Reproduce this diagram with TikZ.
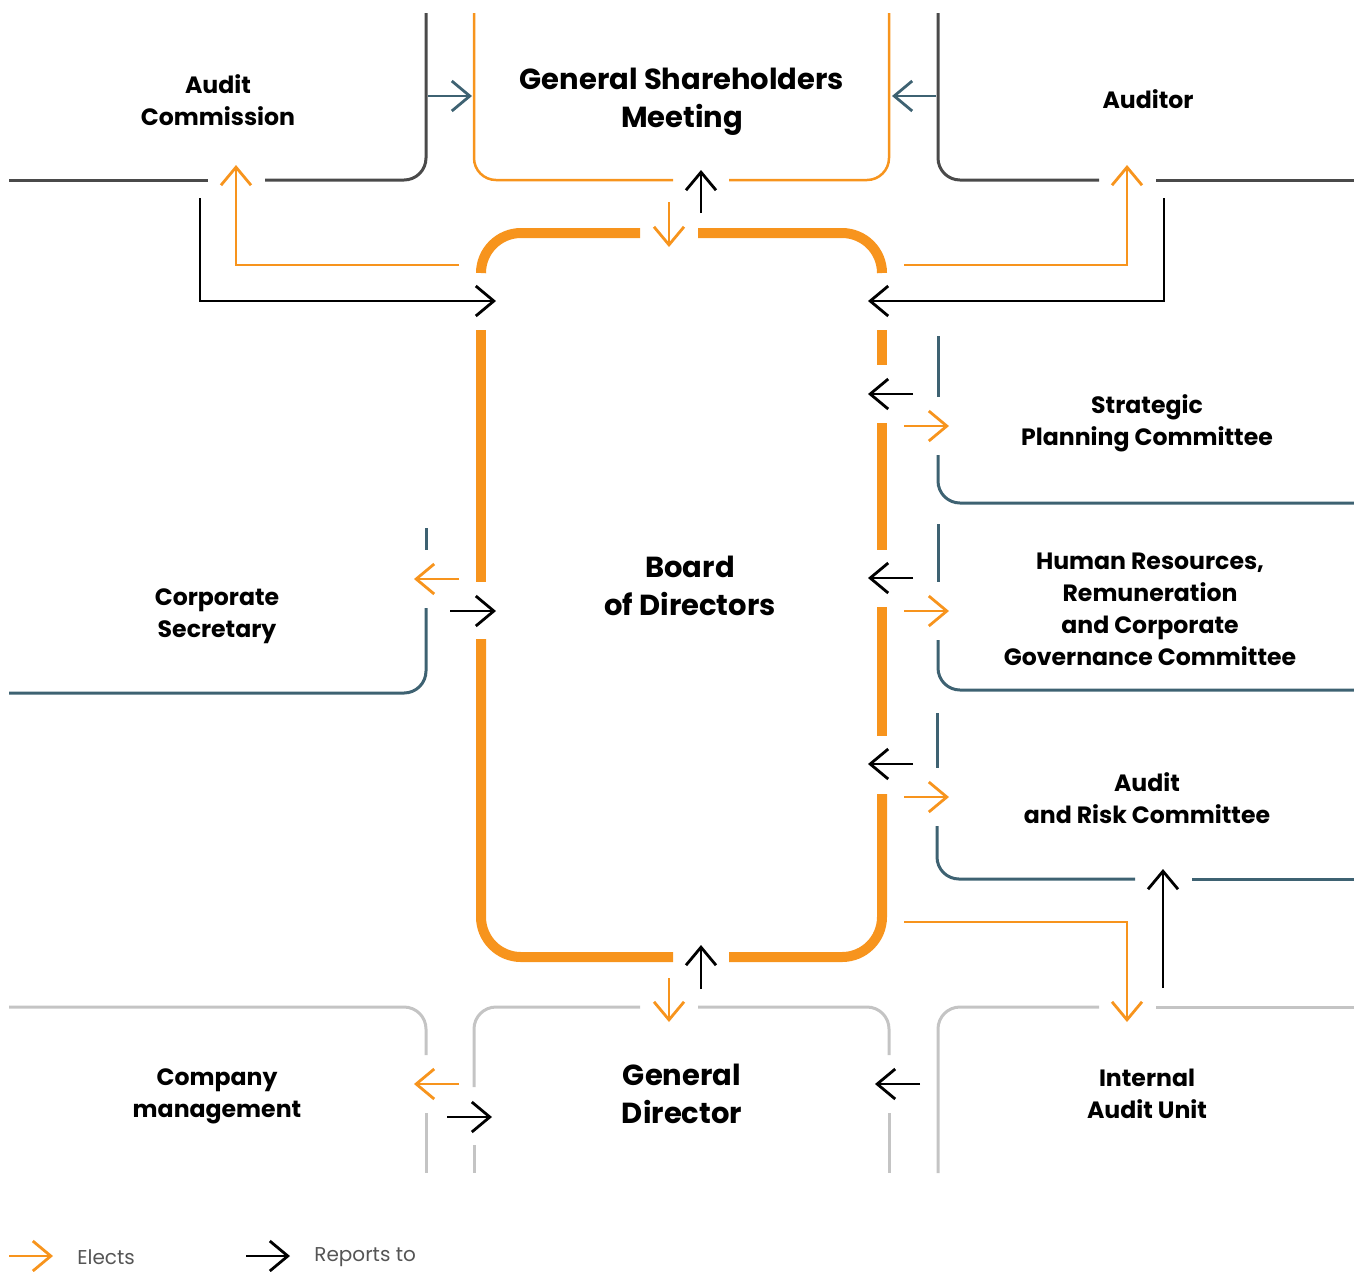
\documentclass[tikz,border=0pt]{standalone}
\usepackage{fontspec}
\setmainfont{Poppins}
\usetikzlibrary{arrows.meta}
\definecolor{orgc}{HTML}{F7941D}
\definecolor{tealc}{HTML}{3E6272}
\definecolor{darkc}{HTML}{4A4A4A}
\definecolor{lightc}{HTML}{C4C4C4}
\definecolor{legc}{HTML}{555555}

\begin{document}
\begin{tikzpicture}[
			x=0.5pt,y=-0.5pt,
			barb/.style={-{Straight Barb[length=9pt,width=15pt,line width=1.4pt]}},
			elects/.style={barb,draw=orgc,line width=1.4pt},
			reports/.style={barb,draw=black,line width=1.4pt},
			informs/.style={barb,draw=tealc,line width=1.4pt},
			outline/.style={line width=1.5pt,rounded corners=11pt},
			boardline/.style={draw=orgc,line width=5pt,rounded corners=20pt},
			unit/.style={align=center,font=\bfseries\fontsize{11.8}{16}\selectfont},
			bigunit/.style={align=center,font=\bfseries\fontsize{14.5}{19}\selectfont},
			legend/.style={anchor=west,inner sep=1pt,text=legc,font=\fontsize{10}{12}\selectfont}
		]
			\useasboundingbox (0,0) rectangle (1354,1271);
			
			% labels
			\node[unit] (ac) at (218,100) {Audit\\Commission};
			\node[bigunit] (gsm) at (682,102) {General Shareholders\\Meeting};
			\node[unit] (aud) at (1148,99) {Auditor};
			\node[bigunit] (bod) at (690,586) {Board\\of Directors};
			\node[unit] (spc) at (1147,423) {Strategic\\Planning Committee};
			\node[unit] (hr) at (1150,609) {Human Resources,\\Remuneration\\and Corporate\\Governance Committee};
			\node[unit] (arc) at (1147,798) {Audit\\and Risk Committee};
			\node[unit] (cs) at (217,616) {Corporate\\Secretary};
			\node[unit] (cm) at (217,1096) {Company\\management};
			\node[bigunit] (gd) at (682,1094) {General\\Director};
			\node[unit] (iau) at (1147,1094) {Internal\\Audit Unit};
			
			% box outlines
			\draw[outline,darkc] (9,180) -- (208,180);
			\draw[outline,darkc] (265,180) -- (426,180) -- (426,13);
			\draw[outline,orgc,line width=1.25pt] (673,180) -- (474,180) -- (474,13);
			\draw[outline,orgc,line width=1.25pt] (729,180) -- (889,180) -- (889,13);
			\draw[outline,darkc] (938,13) -- (938,180) -- (1099,180);
			\draw[outline,darkc] (1156,180) -- (1354,180);
			
			\draw[boardline] (640,233) -- (481,233) -- (481,273);
			\draw[boardline] (698,233) -- (882,233) -- (882,273);
			\draw[boardline] (481,330) -- (481,582);
			\draw[boardline] (481,639) -- (481,957) -- (673,957);
			\draw[boardline] (729,957) -- (882,957) -- (882,794);
			\draw[boardline] (882,330) -- (882,365);
			\draw[boardline] (882,423) -- (882,550);
			\draw[boardline] (882,607) -- (882,736);
			
			\draw[outline,tealc] (938,336) -- (938,397);
			\draw[outline,tealc] (938,455) -- (938,503) -- (1354,503);
			\draw[outline,tealc] (938,524) -- (938,582);
			\draw[outline,tealc] (938,640) -- (938,690) -- (1354,690);
			\draw[outline,tealc] (937,713) -- (937,768);
			\draw[outline,tealc] (937,826) -- (937,879) -- (1135,879);
			\draw[outline,tealc] (1192,879) -- (1354,879);
			\draw[outline,tealc] (426,528) -- (426,550);
			\draw[outline,tealc] (426,608) -- (426,693) -- (9,693);
			
			\draw[outline,lightc] (9,1007) -- (426,1007) -- (426,1055);
			\draw[outline,lightc] (426,1113) -- (426,1173);
			\draw[outline,lightc] (640,1007) -- (474,1007) -- (474,1087);
			\draw[outline,lightc] (474,1145) -- (474,1173);
			\draw[outline,lightc] (698,1007) -- (889,1007) -- (889,1055);
			\draw[outline,lightc] (889,1113) -- (889,1173);
			\draw[outline,lightc] (1099,1007) -- (938,1007) -- (938,1173);
			\draw[outline,lightc] (1156,1007) -- (1354,1007);
			
			% connector ends
			\coordinate (acOut) at (428,96);
			\coordinate (gsmInL) at (472,96);
			\coordinate (audOut) at (936,96);
			\coordinate (gsmInR) at (892,96);
			\coordinate (gsmDown) at (669,202);
			\coordinate (bodInT) at (669,247);
			\coordinate (bodUp) at (701,213);
			\coordinate (gsmInB) at (701,170);
			\coordinate (bodOutL) at (459,265);
			\coordinate (acIn) at (236,165);
			\coordinate (bodOutR) at (904,265);
			\coordinate (audIn) at (1127,165);
			\coordinate (acDown) at (200,198);
			\coordinate (bodInL) at (496,301);
			\coordinate (audDown) at (1164,198);
			\coordinate (bodInR) at (868,301);
			\coordinate (spcOut) at (913,394);
			\coordinate (spcBod) at (868,394);
			\coordinate (bodSpc) at (904,426);
			\coordinate (spcIn) at (949,426);
			\coordinate (hrOut) at (913,578);
			\coordinate (hrBod) at (868,578);
			\coordinate (bodHr) at (904,611);
			\coordinate (hrIn) at (949,611);
			\coordinate (arcOut) at (913,764);
			\coordinate (arcBod) at (868,764);
			\coordinate (bodArc) at (904,797);
			\coordinate (arcIn) at (949,797);
			\coordinate (bodCs) at (459,579);
			\coordinate (csIn) at (414,579);
			\coordinate (csOut) at (450,611);
			\coordinate (csBod) at (496,611);
			\coordinate (bodDown) at (669,978);
			\coordinate (gdIn) at (669,1022);
			\coordinate (gdUp) at (701,989);
			\coordinate (bodInB) at (701,945);
			\coordinate (bodIau) at (904,922);
			\coordinate (iauIn) at (1127,1022);
			\coordinate (iauUp) at (1163,988);
			\coordinate (arcInB) at (1163,869);
			\coordinate (gdCm) at (459,1084);
			\coordinate (cmIn) at (414,1084);
			\coordinate (cmOut) at (447,1117);
			\coordinate (gdInL) at (492,1117);
			\coordinate (iauOut) at (920,1084);
			\coordinate (gdInR) at (875,1084);
			
			% connectors
			\draw[informs] (acOut) -- (gsmInL);
			\draw[informs] (audOut) -- (gsmInR);
			\draw[elects] (gsmDown) -- (bodInT);
			\draw[reports] (bodUp) -- (gsmInB);
			\draw[elects] (bodOutL) -| (acIn);
			\draw[elects] (bodOutR) -| (audIn);
			\draw[reports] (acDown) |- (bodInL);
			\draw[reports] (audDown) |- (bodInR);
			\draw[reports] (spcOut) -- (spcBod);
			\draw[elects] (bodSpc) -- (spcIn);
			\draw[reports] (hrOut) -- (hrBod);
			\draw[elects] (bodHr) -- (hrIn);
			\draw[reports] (arcOut) -- (arcBod);
			\draw[elects] (bodArc) -- (arcIn);
			\draw[elects] (bodCs) -- (csIn);
			\draw[reports] (csOut) -- (csBod);
			\draw[elects] (bodDown) -- (gdIn);
			\draw[reports] (gdUp) -- (bodInB);
			\draw[elects] (bodIau) -| (iauIn);
			\draw[reports] (iauUp) -- (arcInB);
			\draw[elects] (gdCm) -- (cmIn);
			\draw[reports] (cmOut) -- (gdInL);
			\draw[reports] (iauOut) -- (gdInR);
			
			% legend
			\coordinate (keyA) at (9,1256);
			\coordinate (keyAend) at (53,1256);
			\coordinate (keyB) at (246,1256);
			\coordinate (keyBend) at (290,1256);
			\draw[elects] (keyA) -- (keyAend);
			\draw[reports] (keyB) -- (keyBend);
			\node[legend] (kelects) at (75,1257) {Elects};
			\node[legend] (kreports) at (312,1257) {Reports to};
			
		\end{tikzpicture}
\end{document}
